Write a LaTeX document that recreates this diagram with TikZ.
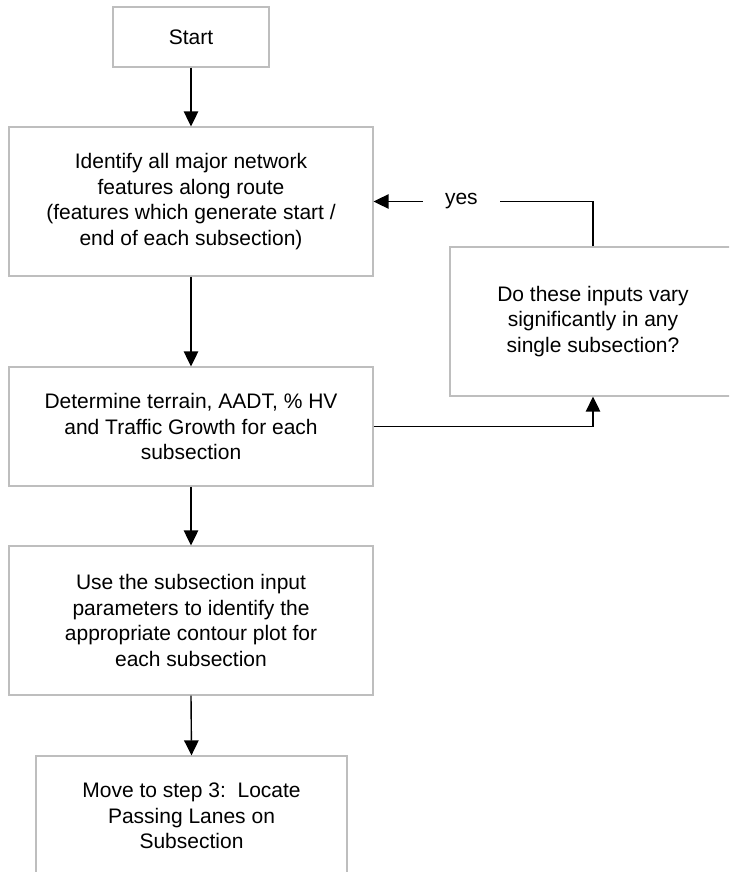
\documentclass[tikz,border=0pt]{standalone}
\usepackage{fontspec}
\setmainfont{Liberation Sans}
\usetikzlibrary{arrows.meta}
\definecolor{boxgray}{RGB}{190,190,190}
\tikzset{
  stepbox/.style={draw=boxgray, line width=1.3pt, fill=white, rectangle,
    inner sep=0pt, align=center,
    font=\fontsize{21}{25.7}\selectfont},
  flow/.style={draw=black, line width=1.4pt,
    -{Triangle[length=15pt,width=14.5pt]}},
  flowlabel/.style={fill=white, inner xsep=22pt, inner ysep=3pt,
    font=\fontsize{21}{25.7}\selectfont}
}
\begin{document}
\begin{tikzpicture}[x=1pt,y=-1pt]
  \useasboundingbox (0,0) rectangle (729,872);
  \clip (0,0) rectangle (729,872);

  % process boxes
  \node[stepbox, minimum width=156pt, minimum height=60pt] (start) at (191,37) {Start};
  \node[stepbox, minimum width=364pt, minimum height=149pt] (ident) at (191,201.5)
    {Identify all major network\\features along route\\(features which generate start /\\end of each subsection)};
  \node[stepbox, minimum width=286pt, minimum height=149pt] (vary) at (593,321.5)
    {Do these inputs vary\\significantly in any\\single subsection?};
  \node[stepbox, minimum width=364pt, minimum height=119pt] (det) at (191,426.5)
    {Determine terrain, AADT, \% HV\\and Traffic Growth for each\\subsection};
  \node[stepbox, minimum width=364pt, minimum height=149pt] (use) at (191,620.5)
    {Use the subsection input\\parameters to identify the\\appropriate contour plot for\\each subsection};
  \node[stepbox, minimum width=311pt, minimum height=120pt] (move) at (191.5,816)
    {Move to step 3:\ \ Locate\\Passing Lanes on\\Subsection};

  % main sequence
  \draw[flow] (start.south) -- (ident.north);
  \draw[flow] (ident.south) -- (det.north);
  \draw[flow] (det.south) -- (use.north);
  \draw[flow] (use.south) -- (move.north);

  % check loop
  \draw[flow] (det.east) -| (vary.south);
  \draw[flow] (vary.north) |- (ident.east) node[flowlabel, pos=0.8] {yes};
\end{tikzpicture}
\end{document}
